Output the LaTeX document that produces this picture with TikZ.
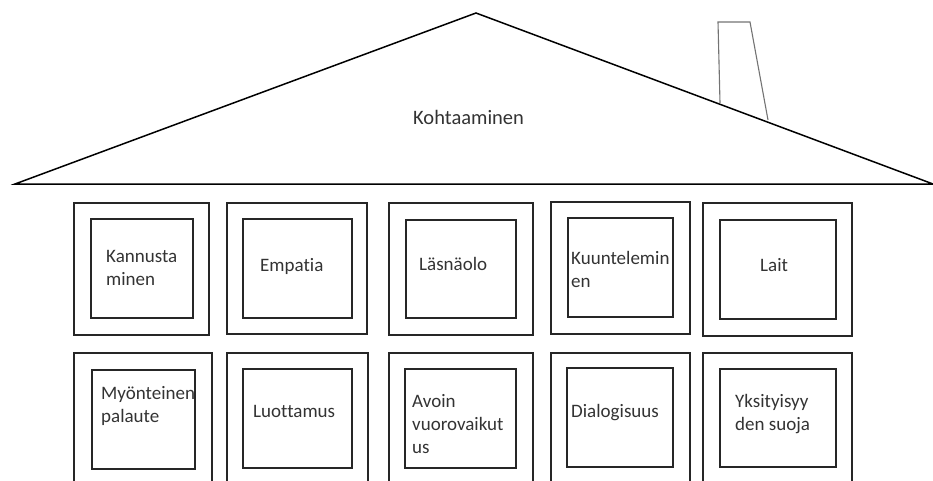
\documentclass[tikz,border=0pt]{standalone}
\usepackage{fontspec}
\setmainfont[Ligatures=NoCommon]{Carlito}
\usepackage{tikz}

\begin{document}
\begin{tikzpicture}[x=1pt, y=-1pt]
\tikzset{
    every node/.style = {rectangle, inner sep=0pt},
    outerbox/.style = {draw=black!85, line width=1.5pt},
    innerbox/.style = {draw=black!85, line width=1.5pt},
    roof/.style = {draw=black, line width=1.5pt, line join=miter},
    chimney/.style = {draw=black!55, line width=1.1pt},
    lbl/.style = {anchor=north west, align=left, text=black!80,
                  font=\fontsize{19}{23}\selectfont},
    title/.style = {anchor=north west, text=black!80,
                    font=\fontsize{20.5}{23}\selectfont}
}
\useasboundingbox (0,0) rectangle (933,481);
\clip (0,0) rectangle (933,481);

% -------------------------------------------------------
\coordinate (eaveL) at (15,184);
\coordinate (ridge) at (476,13);
\coordinate (eaveR) at (933,184);

\path[roof] (eaveL) -- (ridge) -- (eaveR) -- cycle;
\path[chimney] (720,103) -- (718,22) -- (750,22) -- (768,120);

\node[title] (top) at (413,107.9) {\strut Kohtaaminen};

% -------------------------------------------------------
\node[outerbox, minimum width=135pt, minimum height=132pt] (o1) at (141.5,269) {};
\node[outerbox, minimum width=140pt, minimum height=131pt] (o2) at (297,268.5) {};
\node[outerbox, minimum width=144pt, minimum height=132pt] (o3) at (461,269) {};
\node[outerbox, minimum width=139pt, minimum height=132pt] (o4) at (620.5,268) {};
\node[outerbox, minimum width=149pt, minimum height=133pt] (o5) at (777.5,269.5) {};

\node[innerbox, minimum width=102pt, minimum height=99pt] (i1) at (142,268.5) {};
\node[innerbox, minimum width=109pt, minimum height=99pt] (i2) at (297.5,268.5) {};
\node[innerbox, minimum width=110pt, minimum height=98pt] (i3) at (461,269) {};
\node[innerbox, minimum width=105pt, minimum height=99pt] (i4) at (620.5,267.5) {};
\node[innerbox, minimum width=116pt, minimum height=99pt] (i5) at (778,269.5) {};

\node[lbl] (t1) at (106,245.9) {\strut Kannusta\\minen};
\node[lbl] (t2) at (260,254.9) {\strut Empatia};
\node[lbl] (t3) at (419,253.9) {\strut Läsnäolo};
\node[lbl] (t4) at (571,247.9) {\strut Kuuntelemin\\en};
\node[lbl] (t5) at (760,254.9) {\strut Lait};

% -------------------------------------------------------
\node[outerbox, minimum width=138pt, minimum height=147pt] (o6) at (143,426.5) {};
\node[outerbox, minimum width=141pt, minimum height=147pt] (o7) at (297.5,426.5) {};
\node[outerbox, minimum width=144pt, minimum height=147pt] (o8) at (461,426.5) {};
\node[outerbox, minimum width=139pt, minimum height=147pt] (o9) at (620.5,426.5) {};
\node[outerbox, minimum width=149pt, minimum height=147pt] (o10) at (777.5,426.5) {};

\node[innerbox, minimum width=103pt, minimum height=99pt] (i6) at (143.5,419.5) {};
\node[innerbox, minimum width=109pt, minimum height=99pt] (i7) at (297.5,418.5) {};
\node[innerbox, minimum width=111pt, minimum height=99pt] (i8) at (460.5,418.5) {};
\node[innerbox, minimum width=106pt, minimum height=99pt] (i9) at (620,417.5) {};
\node[innerbox, minimum width=116pt, minimum height=98pt] (i10) at (778,418) {};

\node[lbl] (t6) at (101,382.9) {\strut Myönteinen\\palaute};
\node[lbl] (t7) at (253,400.9) {\strut Luottamus};
\node[lbl] (t8) at (412,390.9) {\strut Avoin\\vuorovaikut\\us};
\node[lbl] (t9) at (571,400.9) {\strut Dialogisuus};
\node[lbl] (t10) at (735,390.9) {\strut Yksityisyy\\den suoja};
\end{tikzpicture}
\end{document}
